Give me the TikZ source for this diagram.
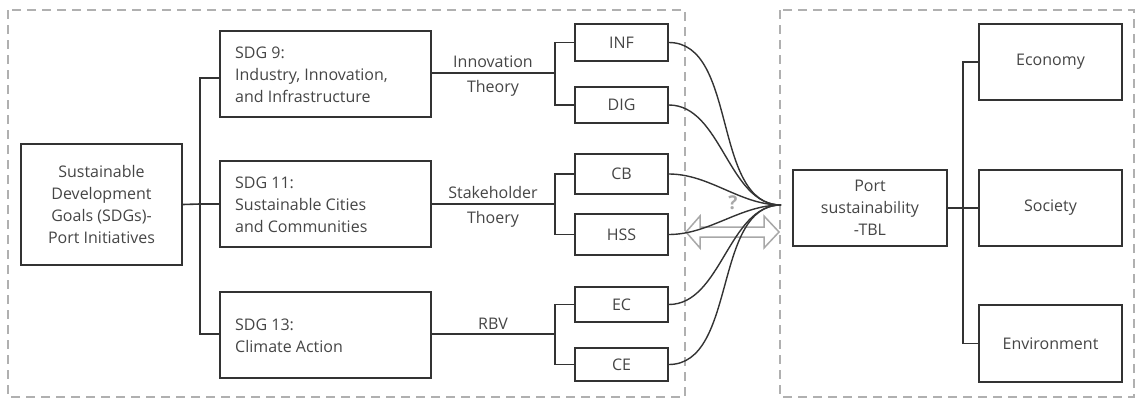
\documentclass[tikz,border=0pt]{standalone}
\usepackage{fontspec}
\setmainfont{Open Sans}
\definecolor{ink}{HTML}{333333}
\definecolor{txt}{HTML}{454545}
\definecolor{dash}{HTML}{B0B0B0}
\definecolor{arr}{HTML}{A8A8A8}
\begin{document}
\begin{tikzpicture}[x=1pt,y=-1pt,
  box/.style={draw=ink,line width=1.6pt,inner sep=0pt,text=txt,font=\fontsize{16}{22}\selectfont},
  link/.style={draw=ink,line width=1.6pt},
  curv/.style={draw=ink,line width=1.4pt},
  frame/.style={draw=dash,line width=1.5pt,dash pattern=on 9pt off 6pt},
  lab/.style={text=txt,font=\fontsize{16}{22}\selectfont,inner sep=0pt}]
\useasboundingbox (0,0) rectangle (1137,399);
% dashed frames
\draw[frame] (8,10) rectangle (685,397);
\draw[frame] (780,10) rectangle (1134,397);
% left main
\node[box,minimum width=161pt,minimum height=121pt,align=center] (sdgs) at (101.5,204.5)
 {Sustainable\\Development\\Goals (SDGs)-\\Port Initiatives};
% SDG boxes
\node[box,minimum width=211pt,minimum height=86pt] (s9) at (325.5,74) {};
\node[lab,anchor=west,align=left] at (235,75) {SDG 9:\\Industry, Innovation,\\and Infrastructure};
\node[box,minimum width=211pt,minimum height=86pt] (s11) at (325.5,204) {};
\node[lab,anchor=west,align=left] at (235,205) {SDG 11:\\Sustainable Cities\\and Communities};
\node[box,minimum width=211pt,minimum height=86pt] (s13) at (325.5,335) {};
\node[lab,anchor=west,align=left] at (235,336) {SDG 13:\\Climate Action};
% trunk
\coordinate (tk) at (200,204);
\draw[link] (sdgs.east) -- (tk);
\draw[link] (s9.west |- 0,78) -| (tk) |- (s13.west |- 0,334);
\draw[link] (tk) -- (s11.west);
% small boxes
\foreach \n/\t/\y/\h in {inf/INF/42.5/37,dig/DIG/105/36,cb/CB/174/40,hss/HSS/234.5/41,ec/EC/304.5/35,ce/CE/364.5/33}{
  \node[box,minimum width=93pt,minimum height=\h pt] (\n) at (621.5,\y) {\t};
}
% branches
\coordinate (b9) at (555,73);
\coordinate (b11) at (555,204);
\coordinate (b13) at (555,334);
\draw[link] (s9.east |- b9) -- (b9);
\draw[link] (s11.east) -- (b11);
\draw[link] (s13.east |- b13) -- (b13);
\draw[link] (inf.west) -| (b9) |- (dig.west);
\draw[link] (cb.west) -| (b11) |- (hss.west);
\draw[link] (ec.west) -| (b13) |- (ce.west);
\node[lab] (l1) at (493,62) {Innovation};
\node[lab] (l2) at (493,88) {Theory};
\node[lab] (l3) at (493,192) {Stakeholder};
\node[lab] (l4) at (493,219) {Thoery};
\node[lab] (l5) at (493,324) {RBV};
% double arrow
\draw[arr,line width=1.5pt,line join=miter,fill=white]
  (686,232) -- (700,216) -- (700,227) -- (764,227) -- (764,216) -- (779,232)
  -- (764,248) -- (764,237) -- (700,237) -- (700,248) -- cycle;
\node[text=arr,font=\bfseries\fontsize{19}{19}\selectfont,inner sep=0pt] (q) at (733,203) {?};
% convergence
\coordinate (cv) at (781,205);
\foreach \n in {inf,dig,cb,hss,ec,ce}{
  \draw[curv] (\n.east) to[out=0,in=180,looseness=0.9] (cv);
}
% right side
\node[box,minimum width=154pt,minimum height=76pt,align=center] (port) at (870,208)
 {Port\\sustainability\\-TBL};
\node[box,minimum width=143pt,minimum height=76pt] (eco) at (1050.5,62) {Economy};
\node[box,minimum width=143pt,minimum height=76pt] (soc) at (1050.5,208) {Society};
\node[box,minimum width=143pt,minimum height=77pt] (env) at (1050.5,343.5) {Environment};
\coordinate (rt) at (963,208);
\draw[link] (port.east) -- (rt) -- (soc.west);
\draw[link] (eco.west) -| (rt) |- (env.west);
\end{tikzpicture}
\end{document}
